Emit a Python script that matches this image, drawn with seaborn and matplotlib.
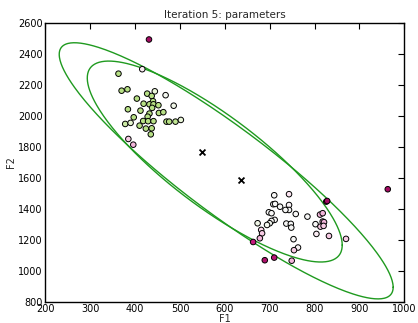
import numpy as np
import pandas as pd
import matplotlib
matplotlib.use("Agg")
import matplotlib.pyplot as plt
import seaborn as sns

# observations (F1, F2) and responsibility used for colour
f1 = [363, 416, 370, 383, 427, 444, 468, 404, 437, 440, 419, 432, 441, 452, 486,
      384, 438, 453, 463, 432, 412, 397, 428, 418, 429, 441, 470, 476, 490, 502,
      378, 390, 410, 424, 437, 435, 385, 396, 431,
      710, 743, 708, 712, 723, 743, 743, 698, 704, 735, 758, 711, 704, 700, 673,
      737, 747, 748, 694, 784, 826, 828, 812, 818, 818, 821, 802, 813, 820, 804,
      832, 681, 683, 678, 663, 753, 763, 754, 689, 710, 749, 963, 870]
f2 = [2274, 2303, 2164, 2173, 2145, 2160, 2135, 2113, 2130, 2096, 2080, 2076, 2076, 2070, 2067,
      2044, 2053, 2020, 2025, 2016, 2035, 1992, 1996, 1968, 1967, 1967, 1964, 1964, 1964, 1975,
      1949, 1956, 1938, 1919, 1921, 1882, 1852, 1815, 2495,
      1488, 1495, 1430, 1432, 1414, 1425, 1393, 1378, 1372, 1393, 1367, 1329, 1322, 1307, 1307,
      1305, 1303, 1279, 1296, 1350, 1447, 1451, 1363, 1372, 1318, 1314, 1301, 1285, 1290, 1238,
      1225, 1264, 1242, 1210, 1186, 1204, 1150, 1133, 1068, 1085, 1065, 1527, 1206]
resp = [0.7, 0.45, 0.7, 0.7, 0.7, 0.58, 0.52, 0.7, 0.7, 0.7, 0.7, 0.7, 0.7, 0.7, 0.54,
        0.7, 0.7, 0.7, 0.7, 0.7, 0.7, 0.7, 0.7, 0.7, 0.7, 0.7, 0.7, 0.7, 0.68, 0.58,
        0.66, 0.6, 0.7, 0.7, 0.7, 0.7, 0.35, 0.3, 0.04,
        0.5, 0.42, 0.5, 0.5, 0.5, 0.48, 0.5, 0.5, 0.5, 0.5, 0.5, 0.5, 0.5, 0.52, 0.54,
        0.5, 0.5, 0.5, 0.52, 0.5, 0.08, 0.04, 0.3, 0.3, 0.3, 0.3, 0.5, 0.35, 0.35, 0.45,
        0.35, 0.38, 0.35, 0.3, 0.1, 0.5, 0.48, 0.35, 0.06, 0.08, 0.3, 0.04, 0.35]

# component means (crosses)
mean_f1 = [548, 635]
mean_f2 = [1766, 1585]

# ellipse outlines: centre and shape matrix
ell_center = [(577.5, 1706), (603, 1646)]
ell_cov = [[[80656, -153360], [-153360, 421850]],
           [[138384, -280000], [-280000, 685584]]]

df = pd.DataFrame({"F1": f1, "F2": f2, "r": resp})

sns.set_style("white")
plt.rcParams.update({
    "xtick.direction": "in", "ytick.direction": "in",
    "xtick.top": True, "ytick.right": True,
    "xtick.major.size": 4, "ytick.major.size": 4,
    "xtick.major.pad": 2, "ytick.major.pad": 2,
    "axes.edgecolor": "black", "axes.linewidth": 1.0,
    "font.size": 7,
})

fig = plt.figure(figsize=(4.18, 3.23), dpi=100)
ax = fig.add_axes([0.1084, 0.066, 0.859, 0.862])

t = np.linspace(0, 2 * np.pi, 400)
circle = np.vstack([np.cos(t), np.sin(t)])
for c, cov in zip(ell_center, ell_cov):
    L = np.linalg.cholesky(np.array(cov, dtype=float))
    pts = L @ circle
    ax.plot(c[0] + pts[0], c[1] + pts[1], color="#1f9a1f", lw=1.0, zorder=1)

sns.scatterplot(data=df, x="F1", y="F2", hue="r", palette="PiYG", hue_norm=(0, 1),
                s=16, edgecolor="black", linewidth=0.7, legend=False, ax=ax, zorder=3)
ax.scatter(mean_f1, mean_f2, marker="x", color="black", s=18, linewidths=1.3, zorder=4)

ax.set_xlim(200, 1000)
ax.set_ylim(800, 2600)
ax.set_xticks(range(200, 1001, 100))
ax.set_yticks(range(800, 2601, 200))
ax.tick_params(labelsize=7, colors="black")
ax.set_xlabel("F1", fontsize=7, labelpad=0)
ax.set_ylabel("F2", fontsize=7, labelpad=1)
ax.set_title("Iteration 5: parameters", fontsize=7.5, pad=4)

fig.savefig("out.png", dpi=100)
